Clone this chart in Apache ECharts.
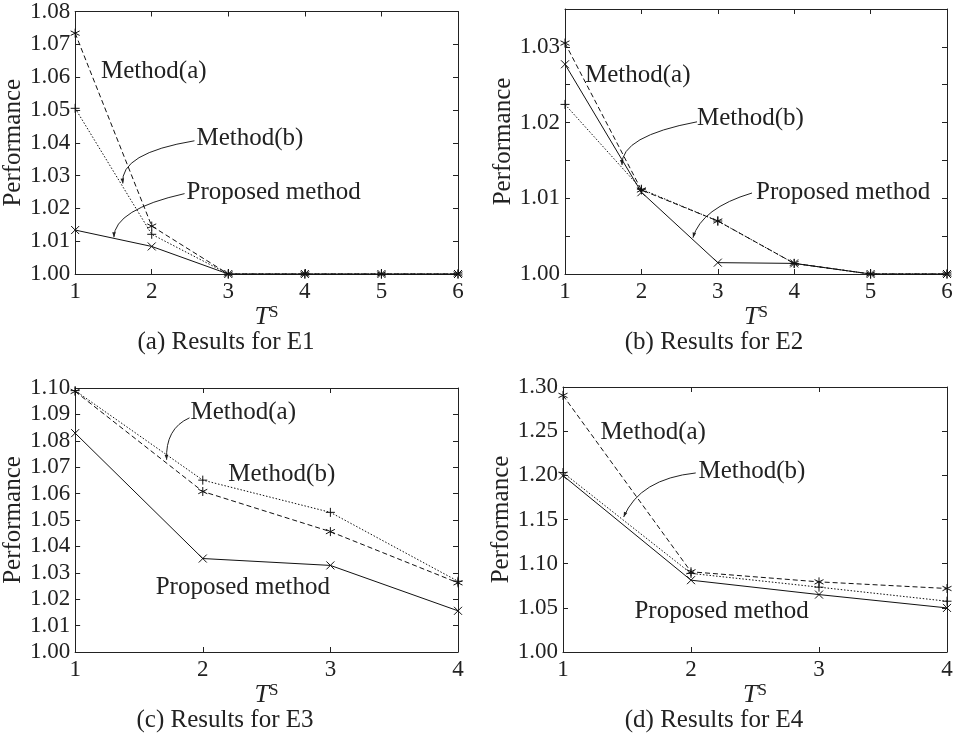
<!DOCTYPE html>
<html><head><meta charset="utf-8">
<script src="https://cdn.jsdelivr.net/npm/echarts@6/dist/echarts.min.js"></script>
<style>html,body{margin:0;padding:0;background:#fff}#c{width:957px;height:739px}</style>
</head><body><div id="c"></div>
<script>
// ---- data ----
const xLong = [1, 2, 3, 4, 5, 6];
const xShort = [1, 2, 3, 4];

const e1MethodA  = [1.0734, 1.0146, 1.0000, 1.0000, 1.0000, 1.0000];
const e1MethodB  = [1.0505, 1.0121, 1.0000, 1.0000, 1.0000, 1.0000];
const e1Proposed = [1.0134, 1.0084, 1.0000, 1.0000, 1.0000, 1.0000];

const e2MethodA  = [1.0305, 1.0111, 1.0070, 1.0014, 1.0000, 1.0000];
const e2MethodB  = [1.0224, 1.0112, 1.0070, 1.0014, 1.0000, 1.0000];
const e2Proposed = [1.0277, 1.0108, 1.0015, 1.0014, 1.0000, 1.0000];

const e3MethodA  = [1.0987, 1.0608, 1.0456, 1.0262];
const e3MethodB  = [1.0990, 1.0651, 1.0529, 1.0268];
const e3Proposed = [1.0829, 1.0354, 1.0328, 1.0156];

const e4MethodA  = [1.2905, 1.0908, 1.0794, 1.0719];
const e4MethodB  = [1.2031, 1.0890, 1.0734, 1.0575];
const e4Proposed = [1.1997, 1.0813, 1.0650, 1.0499];

// y-axis ranges and tick steps per panel
const yMin   = [1.00, 1.000, 1.00, 1.00];
const yMax   = [1.08, 1.035, 1.10, 1.30];
const yStep  = [0.01, 0.005, 0.01, 0.05];
const yLabelStep = [0.01, 0.01, 0.01, 0.05];
const xMax   = [6, 6, 4, 4];

const captions = ['(a) Results for E1', '(b) Results for E2', '(c) Results for E3', '(d) Results for E4'];
const xTitle = 'T';
const xTitleSup = 'S';
const yTitle = 'Performance';
const seriesNames = ['Method(a)', 'Method(b)', 'Proposed method'];

// annotations (data coordinates of each panel)
const notes = [
  {g:0, text:'Method(a)', at:[1.338, 1.0618]},
  {g:0, text:'Method(b)', at:[2.584, 1.0412], from:[2.558, 1.0406], ctrl:[1.578, 1.0368], to:[1.623, 1.0276]},
  {g:0, text:'Proposed method', at:[2.455, 1.0249], from:[2.429, 1.0245], ctrl:[1.513, 1.0197], to:[1.506, 1.0112]},
  {g:1, text:'Method(a)', at:[1.262, 1.0262]},
  {g:1, text:'Method(b)', at:[2.728, 1.0206], from:[2.728, 1.0201], ctrl:[1.726, 1.0182], to:[1.746, 1.0144]},
  {g:1, text:'Proposed method', at:[3.50, 1.0108], from:[3.448, 1.0107], ctrl:[2.787, 1.0087], to:[2.675, 1.0048]},
  {g:2, text:'Method(a)', at:[1.904, 1.0906], from:[1.896, 1.0887], ctrl:[1.705, 1.0846], to:[1.717, 1.0728]},
  {g:2, text:'Method(b)', at:[2.20, 1.0671]},
  {g:2, text:'Proposed method', at:[1.631, 1.0243]},
  {g:3, text:'Method(a)', at:[1.292, 1.2481]},
  {g:3, text:'Method(b)', at:[2.058, 1.2045], from:[2.037, 1.2027], ctrl:[1.599, 1.1959], to:[1.474, 1.1528]},
  {g:3, text:'Proposed method', at:[1.558, 1.0462]}
];

// ---- styling / layout ----
const FONT = '"Liberation Serif", "Times New Roman", serif';
const INK = '#222';
const grids = [
  {left:73,  top:10,  width:385, height:264},
  {left:565, top:9,   width:382, height:265},
  {left:73,  top:388, width:385, height:264},
  {left:563, top:387, width:384, height:265}
];
const captionPos = [[226, 342], [714, 342], [225, 720], [714, 720]];

const SYM_STAR = 'path://M5 0 L5 10 M0.7 2.5 L9.3 7.5 M0.7 7.5 L9.3 2.5';
const SYM_PLUS = 'path://M5 0 L5 10 M0 5 L10 5';
const SYM_X    = 'path://M0 0 L10 10 M0 10 L10 0';

const panelData = [
  [xLong, e1MethodA, e1MethodB, e1Proposed],
  [xLong, e2MethodA, e2MethodB, e2Proposed],
  [xShort, e3MethodA, e3MethodB, e3Proposed],
  [xShort, e4MethodA, e4MethodB, e4Proposed]
];

const xAxes = [], yAxes = [], series = [];
grids.forEach((g, i) => {
  const tickCommon = {show:true, inside:true, length:5, lineStyle:{color:INK, width:1}};
  xAxes.push({
    type:'value', gridIndex:i, min:1, max:xMax[i], interval:1, position:'bottom',
    axisLine:{show:true, onZero:false, lineStyle:{color:INK, width:1}},
    axisTick: tickCommon, splitLine:{show:false},
    axisLabel:{show:true, margin:6, color:INK, fontFamily:FONT, fontSize:23},
    name:'{t|' + xTitle + '}{s|' + xTitleSup + '}', nameLocation:'middle', nameGap:30,
    nameTextStyle:{color:INK, rich:{
      t:{fontFamily:FONT, fontStyle:'italic', fontSize:26, color:INK, lineHeight:26},
      s:{fontFamily:FONT, fontSize:17, color:INK, verticalAlign:'top', lineHeight:26}
    }}
  });
  xAxes.push({
    type:'value', gridIndex:i, min:1, max:xMax[i], interval:1, position:'top',
    axisLine:{show:true, onZero:false, lineStyle:{color:INK, width:1}},
    axisTick: tickCommon, splitLine:{show:false}, axisLabel:{show:false}
  });
  const ls = yLabelStep[i];
  yAxes.push({
    type:'value', gridIndex:i, min:yMin[i], max:yMax[i], interval:yStep[i], position:'left',
    axisLine:{show:true, onZero:false, lineStyle:{color:INK, width:1}},
    axisTick: tickCommon, splitLine:{show:false},
    axisLabel:{show:true, margin:5, color:INK, fontFamily:FONT, fontSize:23,
      formatter: v => { const r = Math.round(v / ls * 1000) / 1000; return Math.abs(r - Math.round(r)) < 1e-6 ? v.toFixed(2) : ''; }},
    name:yTitle, nameLocation:'middle', nameGap:49, nameRotate:90,
    nameTextStyle:{color:INK, fontFamily:FONT, fontSize:25}
  });
  yAxes.push({
    type:'value', gridIndex:i, min:yMin[i], max:yMax[i], interval:yStep[i], position:'right',
    axisLine:{show:true, onZero:false, lineStyle:{color:INK, width:1}},
    axisTick: tickCommon, splitLine:{show:false}, axisLabel:{show:false}
  });

  const [xs, a, b, p] = panelData[i];
  const mk = (name, vals, sym, type, size) => ({
    type:'line', name, xAxisIndex:2*i, yAxisIndex:2*i,
    data: xs.map((x, k) => [x, vals[k]]),
    symbol: sym, symbolSize: size, showSymbol:true, clip:false,
    lineStyle:{color:'#111', width:1, type},
    itemStyle:{color:'#111', borderColor:'#111', borderWidth:1},
    emphasis:{disabled:true}, silent:true, animation:false
  });
  series.push(mk(seriesNames[0], a, SYM_STAR, [5, 3], 9));
  series.push(mk(seriesNames[1], b, SYM_PLUS, [1.5, 1.8], 9));
  series.push(mk(seriesNames[2], p, SYM_X, 'solid', 8));
});

const chart = echarts.init(document.getElementById('c'), null, {renderer:'canvas'});
chart.setOption({
  animation:false,
  backgroundColor:'#fff',
  grid: grids.map(g => Object.assign({containLabel:false}, g)),
  xAxis: xAxes, yAxis: yAxes, series
});

// annotations & captions positioned through the axes' scales
const graphics = [];
captions.forEach((c, i) => {
  graphics.push({type:'text', x:captionPos[i][0], y:captionPos[i][1], silent:true,
    style:{text:c, fill:INK, font:'25px ' + FONT, align:'center', verticalAlign:'middle'}});
});
const toPx = (g, pt) => chart.convertToPixel({xAxisIndex:2*g, yAxisIndex:2*g}, pt);
notes.forEach(n => {
  const p = toPx(n.g, n.at);
  graphics.push({type:'text', x:p[0], y:p[1], silent:true,
    style:{text:n.text, fill:INK, font:'25px ' + FONT, align:'left', verticalAlign:'middle'}});
  if (n.from) {
    const s = toPx(n.g, n.from), c = toPx(n.g, n.ctrl), e = toPx(n.g, n.to);
    graphics.push({type:'bezierCurve', silent:true,
      shape:{x1:s[0], y1:s[1], x2:e[0], y2:e[1], cpx1:c[0], cpy1:c[1]},
      style:{stroke:INK, lineWidth:1, fill:null}});
    const dx = e[0] - c[0], dy = e[1] - c[1], L = Math.hypot(dx, dy) || 1;
    const ux = dx / L, uy = dy / L, hl = 5, hw = 1.8;
    graphics.push({type:'polygon', silent:true,
      shape:{points:[[e[0], e[1]], [e[0] - ux*hl - uy*hw, e[1] - uy*hl + ux*hw], [e[0] - ux*hl + uy*hw, e[1] - uy*hl - ux*hw]]},
      style:{fill:INK}});
  }
});
chart.setOption({graphic: graphics});
</script>
</body></html>
